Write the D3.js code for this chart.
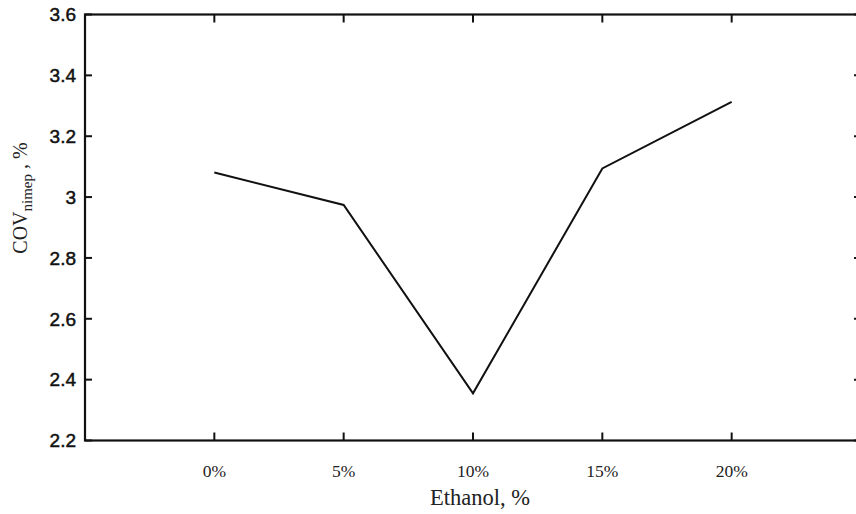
<!DOCTYPE html>
<html>
<head>
<meta charset="utf-8">
<script src="https://cdn.jsdelivr.net/npm/d3@7"></script>
<style>
  body { margin: 0; background: #fff; }
  svg { display: block; }
  .ytick { font-family: 'Liberation Sans', Arial, sans-serif; font-size: 19px; fill: #111; stroke: #111; stroke-width: 0.5px; }
  .xtick { font-family: 'Liberation Serif', 'Times New Roman', serif; font-size: 17.5px; fill: #222; }
  .etiqueta { font-family: 'Liberation Serif', 'Times New Roman', serif; fill: #222; }
</style>
</head>
<body>
<div id="graf"></div>
<script>
// I. Datos
categorias = ['0%', '5%', '10%', '15%', '20%']
cov = [3.081, 2.974, 2.355, 3.094, 3.313]
yTicks = [2.2, 2.4, 2.6, 2.8, 3, 3.2, 3.4, 3.6]

// II. Configuracion
ancho_total = 856
alto_total = 514
margins = { top: 14.5, left: 85, right: -5, bottom: 73.5 }
ancho = ancho_total - margins.left - margins.right
alto = alto_total - margins.top - margins.bottom

svg = d3.select('#graf').append('svg')
        .attr('width', ancho_total)
        .attr('height', alto_total)

g = svg.append('g')
        .attr('transform', `translate(${ margins.left }, ${ margins.top })`)

// indices -1..5 para dejar un hueco a cada lado
x = d3.scaleLinear()
        .domain([-1, categorias.length])
        .range([0, ancho])

y = d3.scaleLinear()
        .domain([2.2, 3.6])
        .range([alto, 0])

// III. Marco y ejes
g.append('rect')
    .attr('width', ancho)
    .attr('height', alto)
    .attr('fill', 'none')
    .attr('stroke', '#111')
    .attr('stroke-width', 2.2)

idx = d3.range(categorias.length)

// ticks hacia adentro
g.selectAll('.tb').data(idx).enter().append('line')
    .attr('x1', d => x(d)).attr('x2', d => x(d))
    .attr('y1', alto).attr('y2', alto - 8)
    .attr('stroke', '#111').attr('stroke-width', 2)
g.selectAll('.tt').data(idx).enter().append('line')
    .attr('x1', d => x(d)).attr('x2', d => x(d))
    .attr('y1', 0).attr('y2', 8)
    .attr('stroke', '#111').attr('stroke-width', 2)
g.selectAll('.tl').data(yTicks).enter().append('line')
    .attr('x1', 0).attr('x2', 7)
    .attr('y1', d => y(d)).attr('y2', d => y(d))
    .attr('stroke', '#111').attr('stroke-width', 2)
g.selectAll('.tr').data(yTicks).enter().append('line')
    .attr('x1', ancho).attr('x2', ancho - 7)
    .attr('y1', d => y(d)).attr('y2', d => y(d))
    .attr('stroke', '#111').attr('stroke-width', 2)

g.selectAll('.ytick').data(yTicks).enter().append('text')
    .attr('class', 'ytick')
    .attr('x', -9)
    .attr('y', d => y(d))
    .attr('dy', '0.36em')
    .attr('text-anchor', 'end')
    .text(d => String(+d.toFixed(1)))

g.selectAll('.xtick').data(idx).enter().append('text')
    .attr('class', 'xtick')
    .attr('x', d => x(d))
    .attr('y', alto + 36)
    .attr('text-anchor', 'middle')
    .text(d => categorias[d])

// titulos de ejes
g.append('text')
    .attr('class', 'etiqueta')
    .attr('x', 480 - margins.left)
    .attr('y', 505 - margins.top)
    .attr('text-anchor', 'middle')
    .style('font-size', '22.5px')
    .text('Ethanol, %')

yLab = svg.append('text')
    .attr('class', 'etiqueta')
    .attr('transform', 'translate(27, 198) rotate(-90)')
    .attr('text-anchor', 'middle')
    .style('font-size', '20px')
yLab.append('tspan').text('COV')
yLab.append('tspan').attr('dy', 5).style('font-size', '15px').text('nimep')
yLab.append('tspan').attr('dy', -5).text(' , %')

// IV. Linea
linea = d3.line()
    .x((d, i) => x(i))
    .y(d => y(d))

g.append('path')
    .datum(cov)
    .attr('d', linea)
    .attr('fill', 'none')
    .attr('stroke', '#111')
    .attr('stroke-width', 2)
</script>
</body>
</html>
